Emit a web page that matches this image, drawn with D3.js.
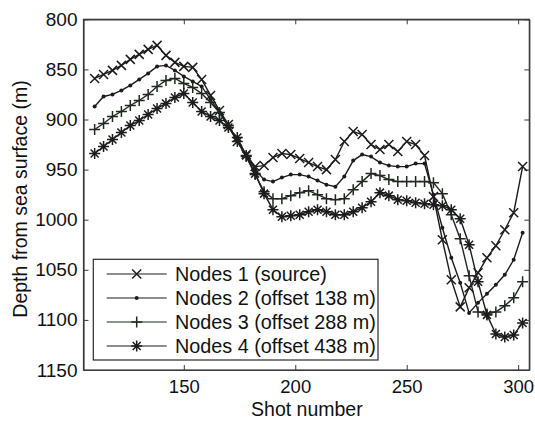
<!DOCTYPE html>
<html>
<head>
<meta charset="utf-8">
<script src="https://cdn.jsdelivr.net/npm/d3@7"></script>
<style>
  body { margin: 0; background: #fff; }
  text { font-family: "Liberation Sans", Arial, sans-serif; fill: #111; }
</style>
</head>
<body>
<svg id="chart" width="535" height="421"></svg>
<script>
// shot numbers (x) shared by all four node series
const shots = [110,114,118,122,126,130,134,138,142,146,150,154,158,162,166,170,174,178,182,186,
  190,194,198,202,206,210,214,218,222,226,230,234,238,242,246,250,254,258,262,266,
  270,274,278,282,286,290,294,298,302];

// depth from sea surface (m)
const nodes1 = [859,855,851,846,840,835,830,826,836,843,847,848,860,876,891,905,922,935,947,946,
  938,934,935,939,943,947,950,940,922,912,915,925,930,925,932,922,925,936,977,1020,
  1060,1087,1068,1053,1038,1026,1010,993,947];
const nodes2 = [887,877,875,871,866,860,854,847,846,851,857,862,867,880,893,907,922,935,950,960,
  962,958,955,955,957,961,965,967,957,941,935,937,943,946,947,947,944,944,975,1008,
  1038,1063,1093,1083,1074,1065,1055,1040,1013];
const nodes3 = [910,904,897,892,886,881,875,867,861,859,864,868,874,883,893,906,922,937,955,972,
  979,979,976,973,971,975,979,980,979,970,962,954,956,960,962,962,962,962,963,974,
  995,1019,1056,1092,1094,1092,1086,1078,1062];
const nodes4 = [934,927,920,913,906,901,895,889,884,878,874,883,892,897,901,908,918,936,954,974,
  990,997,996,995,992,990,992,995,995,992,988,982,973,976,980,981,983,984,985,986,
  990,999,1025,1062,1095,1114,1117,1115,1103];

const seriesNames = ['Nodes 1 (source)', 'Nodes 2 (offset 138 m)', 'Nodes 3 (offset 288 m)', 'Nodes 4 (offset 438 m)'];
const seriesMarkers = ['x', 'dot', 'plus', 'star'];
const xTicks = [150, 200, 250, 300];
const yTicks = [800, 850, 900, 950, 1000, 1050, 1100, 1150];

const series = [nodes1, nodes2, nodes3, nodes4].map((vals, i) => ({
  name: seriesNames[i],
  marker: seriesMarkers[i],
  color: i === 2 ? '#1f2a1f' : '#1c1c1c',
  points: shots.map((s, j) => ({ x: s, y: vals[j] }))
}));

const plotL = 83.5, plotR = 529.3, plotT = 19.3, plotB = 370;
const x = d3.scaleLinear().domain([105, 305]).range([plotL, plotR]);
const y = d3.scaleLinear().domain([800, 1150]).range([plotT, plotB]);

const svg = d3.select('#chart');

// plot box
svg.append('rect')
  .attr('x', plotL).attr('y', plotT)
  .attr('width', plotR - plotL).attr('height', plotB - plotT)
  .attr('fill', '#fff').attr('stroke', '#3a3a3a').attr('stroke-width', 1.2);

// axes, ticks point inward like Matlab
const fmt = d3.format('d');
const gx = svg.append('g').attr('transform', `translate(0,${plotB})`)
  .call(d3.axisBottom(x).tickValues(xTicks).tickFormat(fmt).tickSize(-5).tickSizeOuter(0).tickPadding(10));
const gy = svg.append('g').attr('transform', `translate(${plotL},0)`)
  .call(d3.axisLeft(y).tickValues(yTicks).tickFormat(fmt).tickSize(-5).tickSizeOuter(0).tickPadding(6));
svg.append('g').attr('transform', `translate(0,${plotT})`)
  .call(d3.axisTop(x).tickValues(xTicks).tickSize(-5).tickSizeOuter(0).tickFormat(''));
svg.append('g').attr('transform', `translate(${plotR},0)`)
  .call(d3.axisRight(y).tickValues(yTicks).tickSize(-5).tickSizeOuter(0).tickFormat(''));

svg.selectAll('.domain').attr('stroke', '#3a3a3a').attr('stroke-width', 1.2);
svg.selectAll('.tick line').attr('stroke', '#3a3a3a');
gy.selectAll('text')
  .style('font-family', '"Liberation Sans", Arial, sans-serif')
  .style('font-size', '19px').attr('fill', '#111');
gx.selectAll('text')
  .style('font-family', '"Liberation Sans", Arial, sans-serif')
  .style('font-size', '18.5px').attr('fill', '#111');

// marker shapes
function drawMarker(g, type, cx, cy, color) {
  const m = g.append('g').attr('transform', `translate(${cx},${cy})`)
    .attr('stroke', color).attr('stroke-width', 1.5).attr('fill', 'none');
  if (type === 'x') {
    m.append('path').attr('d', 'M-4.5,-4.5L4.5,4.5M-4.5,4.5L4.5,-4.5');
  } else if (type === 'dot') {
    m.append('circle').attr('r', 2).attr('fill', color).attr('stroke', 'none');
  } else if (type === 'plus') {
    m.append('path').attr('d', 'M-5.5,0L5.5,0M0,-5.5L0,5.5');
  } else {
    m.append('path').attr('d', 'M-5.5,0L5.5,0M0,-5.5L0,5.5M-4,-4L4,4M-4,4L4,-4');
  }
}

const line = d3.line().x(d => x(d.x)).y(d => y(d.y));

series.forEach(s => {
  const g = svg.append('g');
  g.append('path').datum(s.points)
    .attr('d', line)
    .attr('fill', 'none')
    .attr('stroke', s.color)
    .attr('stroke-width', 1.4);
  s.points.forEach(p => drawMarker(g, s.marker, x(p.x), y(p.y), s.color));
});

// legend
const leg = svg.append('g');
leg.append('rect')
  .attr('x', 93.3).attr('y', 259.3).attr('width', 284.7).attr('height', 100.7)
  .attr('fill', '#fff').attr('stroke', '#2a2a2a').attr('stroke-width', 1.2);
series.forEach((s, i) => {
  const ry = 274 + i * 24;
  leg.append('line').attr('x1', 106.7).attr('x2', 166.7).attr('y1', ry).attr('y2', ry)
    .attr('stroke', s.color).attr('stroke-width', 1.2);
  drawMarker(leg, s.marker, 136.7, ry, s.color);
  leg.append('text').attr('x', 175).attr('y', ry).attr('dy', '0.35em')
    .style('font-size', '19.8px').text(s.name);
});

// axis titles
svg.append('text')
  .attr('x', (plotL + plotR) / 2 + 0.5).attr('y', 416)
  .attr('text-anchor', 'middle')
  .style('font-size', '19.5px')
  .text('Shot number');

svg.append('text')
  .attr('transform', 'translate(27,199) rotate(-90)')
  .attr('text-anchor', 'middle')
  .style('font-size', '19.5px')
  .text('Depth from sea surface (m)');
</script>
</body>
</html>
